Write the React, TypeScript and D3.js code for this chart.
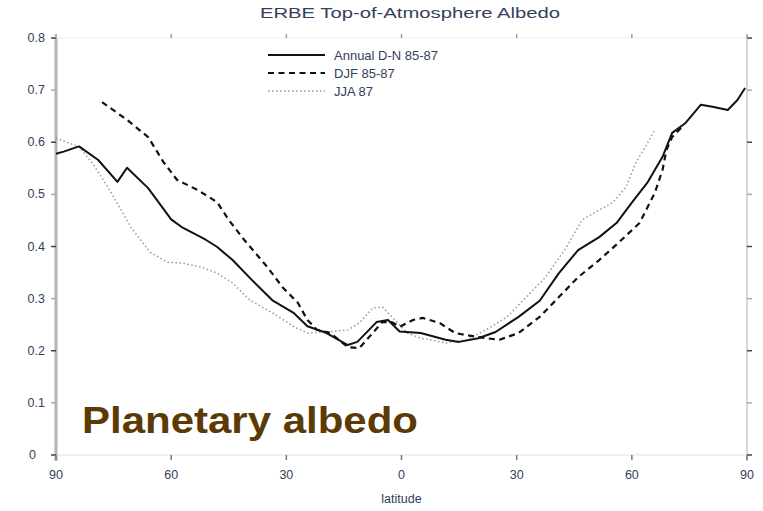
import React, { useEffect, useRef } from 'react';
import * as d3 from 'd3';

type Pt = [number, number];

// latitude, albedo
const annual: Pt[] = [
  [-90, 0.578], [-88, 0.582], [-84, 0.592], [-79, 0.566], [-74, 0.524], [-71.5, 0.551],
  [-66, 0.512], [-60, 0.452], [-57, 0.436], [-51, 0.413], [-48, 0.399], [-44, 0.374],
  [-39, 0.336], [-33.5, 0.296], [-28, 0.272], [-24.5, 0.247], [-19.5, 0.234], [-14, 0.211],
  [-11.5, 0.217], [-6.5, 0.255], [-3.5, 0.259], [-0.5, 0.237], [5, 0.234], [11.5, 0.221],
  [15, 0.217], [20, 0.224], [24.5, 0.236], [30.5, 0.265], [36, 0.296], [41, 0.349],
  [46, 0.393], [51.5, 0.418], [56, 0.445], [60, 0.484], [64, 0.522], [68, 0.572],
  [70.5, 0.618], [74, 0.637], [78, 0.672], [81, 0.668], [85, 0.662], [87.5, 0.681], [89.5, 0.704],
];

const djf: Pt[] = [
  [-78, 0.677], [-71.5, 0.643], [-66, 0.61], [-62, 0.562], [-58.5, 0.528], [-53, 0.508],
  [-48, 0.485], [-45, 0.451], [-41, 0.413], [-35, 0.361], [-31, 0.322], [-27, 0.292],
  [-24.5, 0.259], [-22, 0.24], [-18.5, 0.234], [-14, 0.207], [-11, 0.205], [-7.5, 0.234],
  [-5, 0.255], [-2.5, 0.255], [-0.5, 0.246], [3, 0.259], [5.5, 0.263], [10, 0.253],
  [14, 0.234], [20, 0.226], [25.5, 0.221], [30.5, 0.234], [36, 0.265], [41, 0.303],
  [46, 0.341], [51.5, 0.374], [56.5, 0.407], [62, 0.445], [66, 0.503], [68, 0.547],
  [69, 0.585], [70.5, 0.61], [73, 0.629],
];

const jja: Pt[] = [
  [-90, 0.608], [-84, 0.591], [-80.5, 0.56], [-76.5, 0.514], [-73.5, 0.476], [-70.5, 0.437],
  [-68, 0.413], [-65.5, 0.389], [-61, 0.37], [-57, 0.368], [-52.5, 0.361], [-48, 0.349],
  [-44, 0.33], [-39.5, 0.297], [-33.5, 0.272], [-28, 0.246], [-24.5, 0.234], [-19.5, 0.236],
  [-14, 0.24], [-11, 0.253], [-7.5, 0.282], [-5, 0.284], [-2.5, 0.265], [1.5, 0.234],
  [5, 0.224], [7.5, 0.221], [11.5, 0.215], [17, 0.221], [22, 0.24], [27.5, 0.265],
  [32.5, 0.303], [37.5, 0.341], [43, 0.399], [47, 0.451], [51.5, 0.47], [55, 0.484],
  [58.5, 0.514], [61, 0.56], [63.5, 0.591], [66, 0.624],
];

const xTicks = [-90, -60, -30, 0, 30, 60, 90];
const xTickLabels = ['90', '60', '30', '0', '30', '60', '90'];
const yTicks = [0, 0.1, 0.2, 0.3, 0.4, 0.5, 0.6, 0.7, 0.8];

const legendItems = [
  { label: 'Annual D-N 85-87', stroke: '#111', width: 2, dash: '' },
  { label: 'DJF 85-87', stroke: '#111', width: 2.2, dash: '6,4.5' },
  { label: 'JJA 87', stroke: '#999', width: 1.5, dash: '1.5,2.5' },
];

const W = 763;
const H = 511;

export default function App() {
  const svgRef = useRef<SVGSVGElement>(null);

  useEffect(() => {
    if (!svgRef.current) return;
    const svg = d3.select(svgRef.current);
    svg.selectAll('*').remove();

    const x = d3.scaleLinear().domain([-90, 90]).range([56, 747]);
    const y = d3.scaleLinear().domain([0, 0.8]).range([455, 38]);
    const textColor = '#34405c';
    const font = 'Liberation Sans, Arial, sans-serif';

    svg.append('rect').attr('width', W).attr('height', H).attr('fill', '#fff');

    // frame
    svg.append('line')
      .attr('x1', x(-90)).attr('x2', x(90)).attr('y1', y(0.8)).attr('y2', y(0.8))
      .attr('stroke', '#f0f0f0').attr('stroke-width', 1);
    svg.append('line')
      .attr('x1', x(-90)).attr('x2', x(90)).attr('y1', y(0)).attr('y2', y(0))
      .attr('stroke', '#e2e2e2').attr('stroke-width', 1.2);
    svg.append('line')
      .attr('x1', x(-90)).attr('x2', x(-90)).attr('y1', y(0.8)).attr('y2', y(0) + 6)
      .attr('stroke', '#b4b4b4').attr('stroke-width', 3);
    svg.append('line')
      .attr('x1', x(90)).attr('x2', x(90)).attr('y1', y(0.8)).attr('y2', y(0) + 6)
      .attr('stroke', '#c8c8c8').attr('stroke-width', 1.5);

    // y ticks + labels
    const yg = svg.append('g');
    yTicks.forEach((t, i) => {
      const c = i % 2 === 0 ? '#444' : '#aaa';
      yg.append('line')
        .attr('x1', x(-90) - 5).attr('x2', x(-90)).attr('y1', y(t)).attr('y2', y(t))
        .attr('stroke', c).attr('stroke-width', 1.5);
      yg.append('line')
        .attr('x1', x(90)).attr('x2', x(90) + 5).attr('y1', y(t)).attr('y2', y(t))
        .attr('stroke', c).attr('stroke-width', 1.5);
      yg.append('text')
        .attr('x', t === 0 ? 36 : 45).attr('y', y(t) + 4)
        .attr('text-anchor', 'end')
        .attr('font-family', font).attr('font-size', 12.5)
        .attr('fill', textColor)
        .text(t === 0 ? '0' : t.toFixed(1));
    });

    // x ticks + labels
    const xg = svg.append('g');
    xTicks.forEach((t, i) => {
      xg.append('line')
        .attr('x1', x(t)).attr('x2', x(t)).attr('y1', y(0)).attr('y2', y(0) + 5)
        .attr('stroke', '#777').attr('stroke-width', 1.5);
      xg.append('line')
        .attr('x1', x(t)).attr('x2', x(t)).attr('y1', y(0.8) - 4).attr('y2', y(0.8))
        .attr('stroke', '#999').attr('stroke-width', 1.5);
      xg.append('text')
        .attr('x', x(t)).attr('y', 479)
        .attr('text-anchor', 'middle')
        .attr('font-family', font).attr('font-size', 12.5)
        .attr('fill', textColor)
        .text(xTickLabels[i]);
    });

    svg.append('text')
      .attr('x', x(0)).attr('y', 503)
      .attr('text-anchor', 'middle')
      .attr('font-family', font).attr('font-size', 12.5)
      .attr('fill', textColor)
      .text('latitude');

    // title
    svg.append('text')
      .attr('x', 260).attr('y', 18)
      .attr('font-family', font).attr('font-size', 15)
      .attr('fill', textColor)
      .attr('textLength', 300).attr('lengthAdjust', 'spacingAndGlyphs')
      .text('ERBE Top-of-Atmosphere Albedo');

    // series
    const line = d3.line<Pt>().x(d => x(d[0])).y(d => y(d[1]));
    const series = [jja, djf, annual];
    const styles = [legendItems[2], legendItems[1], legendItems[0]];
    series.forEach((s, i) => {
      svg.append('path')
        .datum(s)
        .attr('fill', 'none')
        .attr('stroke', styles[i].stroke)
        .attr('stroke-width', styles[i].width)
        .attr('stroke-dasharray', styles[i].dash || null)
        .attr('stroke-linejoin', 'round')
        .attr('d', line);
    });

    // legend
    const legend = svg.append('g').attr('transform', 'translate(268, 55)');
    legendItems.forEach((d, i) => {
      legend.append('line')
        .attr('x1', 0).attr('x2', 57).attr('y1', i * 18).attr('y2', i * 18)
        .attr('stroke', d.stroke).attr('stroke-width', d.width)
        .attr('stroke-dasharray', d.dash || null);
      legend.append('text')
        .attr('x', 66).attr('y', i * 18 + 5)
        .attr('font-family', font).attr('font-size', 13)
        .attr('fill', textColor)
        .text(d.label);
    });

    // overlay label
    svg.append('text')
      .attr('x', 82).attr('y', 433)
      .attr('font-family', font).attr('font-size', 36).attr('font-weight', 'bold')
      .attr('fill', '#5c3a04')
      .attr('textLength', 336).attr('lengthAdjust', 'spacingAndGlyphs')
      .text('Planetary albedo');
  }, []);

  return (
    <div style={{ position: 'absolute', left: 0, top: 0 }}>
      <svg ref={svgRef} width={W} height={H} style={{ display: 'block' }} />
    </div>
  );
}
